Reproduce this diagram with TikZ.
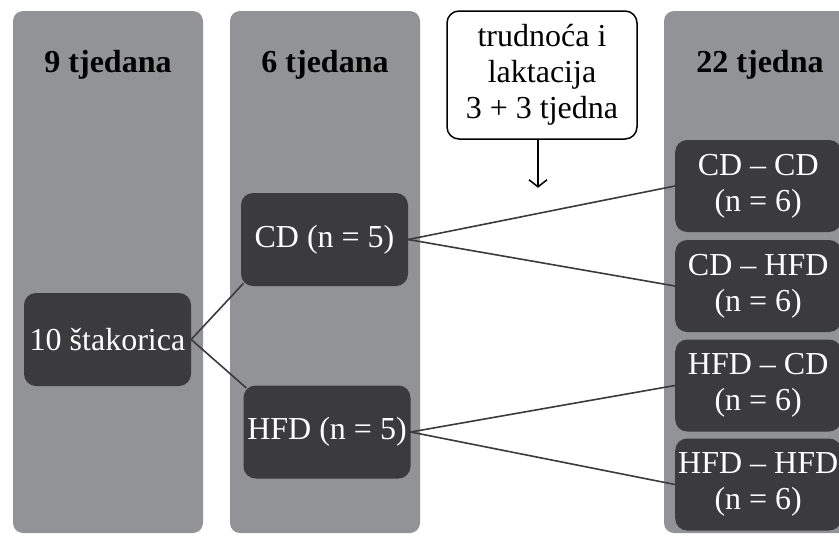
\documentclass[tikz,border=0pt]{standalone}
\usepackage{fontspec}
\setmainfont{Liberation Serif}
\usepackage{tikz}
\usetikzlibrary{arrows.meta, positioning, calc}
\definecolor{colgray}{RGB}{146,147,151}
\definecolor{boxdark}{RGB}{59,59,61}

\begin{document}
\begin{tikzpicture}[x=1pt, y=-1pt,
  column/.style={fill=colgray, rounded corners=10pt, minimum width=190pt, minimum height=522pt, inner sep=0pt},
  head/.style={font=\fontsize{32}{36}\selectfont\bfseries},
  group/.style={fill=boxdark, text=white, rounded corners=12pt, minimum width=167pt, minimum height=93pt, inner sep=1pt, align=center, font=\fontsize{32}{36}\selectfont},
  link/.style={draw=boxdark, line width=1.6pt, shorten <=-4pt, shorten >=-4pt}]
\useasboundingbox (0,0) rectangle (839,536);
% time columns
\node[column] (col1) at (108,272) {};
\node[column] (col2) at (325,272) {};
\node[column] (col3) at (759,272) {};
\node[head] (head1) at (108,65) {9 tjedana};
\node[head] (head2) at (325,65) {6 tjedana};
\node[head] (head3) at (760,65) {22 tjedna};

% groups
\node[group] (rats) at (107.5,339.5) {10 štakorica};
\node[group] (cd) at (324.5,239.5) {CD (n = 5)};
\node[group] (hfd) at (327,432) {HFD (n = 5)};
\node[group, minimum width=166pt, minimum height=92pt, anchor=west] (cdcd) at (675,186) {CD – CD\\(n = 6)};
\node[group, minimum width=166pt, minimum height=92pt, anchor=west] (cdhfd) at (675,286) {CD – HFD\\(n = 6)};
\node[group, minimum width=166pt, minimum height=92pt, anchor=west] (hfdcd) at (675,385.5) {HFD – CD\\(n = 6)};
\node[group, minimum width=166pt, minimum height=92pt, anchor=west] (hfdhfd) at (675,484.5) {HFD – HFD\\(n = 6)};

% pregnancy note
\node[draw, fill=white, line width=1.5pt, rounded corners=12pt, minimum width=190pt, minimum height=128pt, align=center, font=\fontsize{32}{36}\selectfont] (note) at (542,75) {trudnoća i\\laktacija\\3 + 3 tjedna};
\coordinate (noteend) at ($(note.south)+(-4,48)$);
\draw[line width=1.5pt, -{Straight Barb[length=7pt,width=18pt]}] (note.south -| noteend) -- (noteend);

% links
\draw[link] (rats.east) -- (cd.south west);
\draw[link] (rats.east) -- (hfd.north west);
\draw[link] (cd.east) -- (cdcd.west);
\draw[link] (cd.east) -- (cdhfd.west);
\draw[link] (hfd.east) -- (hfdcd.west);
\draw[link] (hfd.east) -- (hfdhfd.west);
\end{tikzpicture}
\end{document}
